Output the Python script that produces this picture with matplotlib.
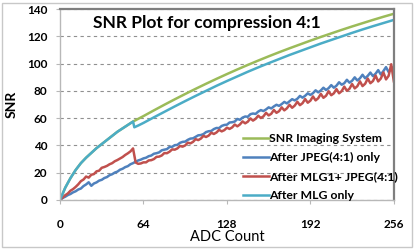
import numpy as np
import matplotlib.pyplot as plt
from matplotlib.patches import Rectangle

# ADC count axis for the smooth curves
adc_smooth = [0, 4, 8, 12, 16, 20, 24, 28, 32, 36, 40, 44, 48, 52, 56,
              64, 72, 80, 88, 96, 104, 112, 120, 128, 136, 144, 152, 160,
              168, 176, 184, 192, 200, 208, 216, 224, 232, 240, 248, 256]
snr_system = [0, 9, 16, 22, 27, 31, 34.5, 38, 41, 44, 47, 50, 52.5, 55, 57.5,
              61.5, 65.7, 69.8, 73.8, 77.7, 81.5, 85.2, 88.8, 92.3, 95.7, 99,
              102.2, 105.3, 108.3, 111.2, 114, 116.8, 119.5, 122.1, 124.7,
              127.2, 129.6, 132, 134.3, 136.5]

adc_mlg = [0, 4, 8, 12, 16, 20, 24, 28, 32, 36, 40, 44, 48, 52, 56, 57, 60,
           64, 72, 80, 88, 96, 104, 112, 120, 128, 136, 144, 152, 160, 168,
           176, 184, 192, 200, 208, 216, 224, 232, 240, 248, 256]
snr_mlg = [0, 9, 16, 22, 27, 31, 34.5, 38, 41, 44, 47, 50, 52.5, 55, 57.5,
           53.3, 54.6, 56.5, 60.6, 64.6, 68.6, 72.5, 76.3, 80, 83.7, 87.2,
           90.6, 94, 97.2, 100.3, 103.3, 106.3, 109.1, 111.9, 114.7, 117.3,
           119.9, 122.5, 125, 127.4, 129.7, 132]

# noisy curves, every 2 ADC counts (0..256)
adc_noisy = np.arange(0, 257, 2)
snr_jpeg = [0, 1.5, 2.4, 3.6, 4.4, 5.6, 6.4, 7.7, 8.4, 10.2, 11.4, 13.0,
            10.4, 12.1, 12.9, 14.2, 14.8, 16.1, 16.8, 18.2, 18.9, 20.1, 20.8,
            22.2, 22.9, 24.1, 24.8, 26.2, 27.0, 28.1, 29.0, 29.6, 30.5,
            31.0, 32.1, 32.6, 33.9, 34.3, 34.9, 36.4, 36.9, 37.3, 38.9,
            39.0, 40.2, 40.4, 41.9, 42.6, 42.8, 44.1, 45.0, 45.2, 46.3,
            47.4, 47.6, 48.3, 49.8, 50.4, 50.6, 52.0, 52.8, 52.7, 54.3,
            55.0, 55.2, 56.8, 57.0, 57.5, 59.4, 58.8, 60.4, 61.2, 61.0,
            62.9, 63.4, 63.1, 64.8, 65.9, 65.2, 66.4, 67.9, 67.1, 68.6,
            69.8, 69.0, 70.3, 71.9, 70.8, 72.4, 73.9, 73.0, 74.2, 76.3,
            75.0, 76.4, 78.2, 77.0, 78.3, 80.4, 78.9, 80.3, 82.3, 80.6,
            82.0, 84.2, 82.3, 83.8, 86.3, 84.5, 85.6, 88.1, 86.0, 87.4,
            89.9, 87.6, 89.2, 91.8, 89.2, 91.0, 93.4, 90.8, 92.6, 95.2,
            92.0, 94.5, 97.4, 93.8, 96.2, 97.6]
snr_mlg_jpeg = [0, 1.8, 3.5, 4.8, 6.8, 8.0, 9.6, 11.5, 13.8, 15.0, 17.2, 16.4,
                18.5, 19.0, 21.0, 21.5, 23.6, 24.2, 25.0, 26.2, 27.0, 28.4,
                29.3, 30.4, 31.5, 33.0, 34.2, 35.6, 37.8, 27.5, 26.5, 26.8,
                27.6,
                27.6, 29.0, 29.2, 30.0, 31.6, 31.8, 32.6, 34.4, 34.3, 35.4,
                37.1, 36.9, 37.8, 39.6, 39.1, 40.0, 42.0, 41.5, 42.6, 44.6,
                43.9, 45.0, 47.0, 46.2, 47.2, 49.3, 48.4, 49.5, 51.4, 50.3,
                51.2, 53.0, 52.1, 53.2, 55.3, 54.0, 55.4, 57.6, 56.2, 57.4,
                59.8, 58.2, 59.5, 61.8, 60.1, 61.3, 63.9, 62.0, 63.2, 66.0,
                63.9, 65.1, 67.9, 65.7, 67.2, 69.8, 67.6, 69.2, 72.0, 69.5,
                71.0, 74.0, 71.3, 72.8, 75.9, 73.0, 74.6, 77.8, 74.9, 76.4,
                79.7, 76.8, 78.2, 81.3, 78.2, 79.8, 83.1, 80.0, 81.6, 85.0,
                81.8, 83.4, 87.0, 83.5, 85.2, 89.0, 85.6, 87.2, 91.2, 86.9,
                89.0, 93.5, 88.4, 91.0, 99.5, 87.0]

labels = ['SNR Imaging System', 'After JPEG(4:1) only',
          'After MLG1+ JPEG(4:1)', 'After MLG only']
colors = ['#9BBB59', '#4F81BD', '#C0504D', '#4BACC6']

plt.rcParams['font.family'] = ['Lato', 'DejaVu Sans']

fig = plt.figure(figsize=(4.15, 2.5), dpi=100)
ax = fig.add_axes([0.1446, 0.2, 0.8044, 0.764])

ax.plot(adc_smooth, snr_system, color=colors[0], lw=1.8, label=labels[0])
ax.plot(adc_noisy, snr_jpeg, color=colors[1], lw=1.8, label=labels[1])
ax.plot(adc_noisy, snr_mlg_jpeg, color=colors[2], lw=1.8, label=labels[2])
ax.plot(adc_mlg, snr_mlg, color=colors[3], lw=1.8, label=labels[3])

ax.set_xlim(0, 256)
ax.set_ylim(0, 140)
ax.set_xticks([0, 64, 128, 192, 256])
ax.set_yticks(range(0, 141, 20))
ax.yaxis.grid(True, linestyle=(0, (3, 3)), color='#909090', lw=0.8)
ax.set_axisbelow(True)

for side in ['left', 'bottom']:
    ax.spines[side].set_color('#b8b8b8')
    ax.spines[side].set_linewidth(1)
for side in ['top', 'right']:
    ax.spines[side].set_color('#7f7f7f')
    ax.spines[side].set_linewidth(1.6)

ax.tick_params(axis='both', direction='out', length=3, color='#b8b8b8',
               labelsize=8.5)
ax.tick_params(axis='y', pad=6)
ax.tick_params(axis='x', pad=11)
for t in ax.get_xticklabels() + ax.get_yticklabels():
    t.set_fontweight('bold')

ax.set_ylabel('SNR', fontsize=10, fontweight='bold', labelpad=7)
ax.set_xlabel('ADC Count', fontsize=10.5, labelpad=0)

ax.text(0.439, 0.927, 'SNR Plot for compression 4:1', transform=ax.transAxes,
        ha='center', va='center', fontsize=12.5, fontweight='bold')

leg = ax.legend(loc='center left', bbox_to_anchor=(0.548, 0.172),
                frameon=False, fontsize=8.8, handlelength=2.1,
                handletextpad=0.05, labelspacing=0.65, borderpad=0,
                borderaxespad=0)
for t in leg.get_texts():
    t.set_fontweight('bold')

fig.patches.append(Rectangle((0.006, 0.012), 0.986, 0.978, transform=fig.transFigure,
                             fill=False, edgecolor='#c8c8c8', lw=1))

fig.savefig('out.png', dpi=100)
